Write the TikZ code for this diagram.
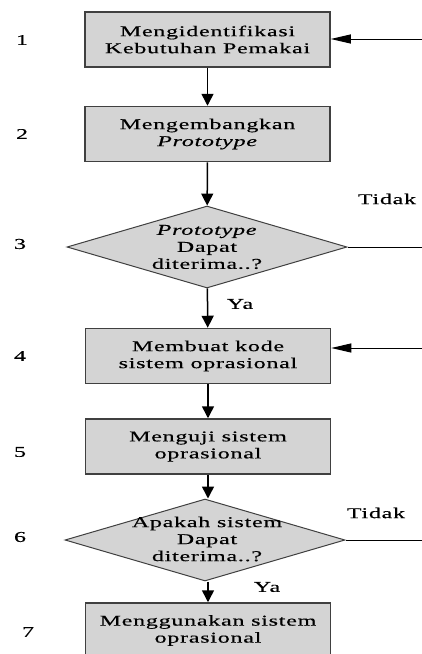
\documentclass[tikz,border=0pt]{standalone}
\usepackage{fontspec}
\setmainfont[FakeStretch=1.6,LetterSpace=5,FakeBold=0.4]{Liberation Serif}
\usetikzlibrary{shapes.geometric,arrows.meta}
\begin{document}
\begin{tikzpicture}[x=1pt,y=-1pt,
  font=\fontsize{15}{17}\selectfont,
  box/.style={draw=black!75,line width=1.5pt,fill=black!17,minimum width=245pt,minimum height=55pt,inner sep=0pt,align=center},
  dia/.style={draw=black!75,line width=1pt,fill=black!17,diamond,minimum width=280pt,minimum height=82pt,inner sep=0pt},
  txt/.style={align=center,inner sep=0pt},
  num/.style={inner sep=0pt},
  flow/.style={line width=1.5pt,-{Triangle[length=12pt,width=12pt]}},
  back/.style={line width=1pt,-{Triangle[length=20pt,width=9pt]}},
  plain/.style={line width=1pt}]
\useasboundingbox (0,0) rectangle (422,654);
\clip (0,0) rectangle (422,654);
\node[box] (b1) at (207.5,39.5) {Mengidentifikasi\\Kebutuhan Pemakai};
\node[box] (b2) at (207.5,134) {Mengembangkan\\\textit{Prototype}};
\node[dia] (d3) at (207,247) {};
\node[txt] (t3) at (207,247) {\textit{Prototype}\\Dapat\\diterima..?};
\node[box] (b4) at (208,356) {Membuat kode\\sistem oprasional};
\node[box] (b5) at (208,446.5) {Menguji sistem\\oprasional};
\node[dia] (d6) at (205,540) {};
\node[txt] (t6) at (207,539) {Apakah sistem\\Dapat\\diterima..?};
\node[box] (b7) at (208,630.5) {Menggunakan sistem\\oprasional};
\node[num] (n1) at (22,40) {1};
\node[num] (n2) at (22,134) {2};
\node[num] (n3) at (20,244) {3};
\node[num] (n4) at (20,356) {4};
\node[num] (n5) at (20,452) {5};
\node[num] (n6) at (20,537) {6};
\node[num] (n7) at (28,632) {7};
\node[txt] (td1) at (387,199) {Tidak};
\node[txt] (td2) at (376,513) {Tidak};
\node[txt] (ya1) at (240,304) {Ya};
\node[txt] (ya2) at (267,587) {Ya};
\coordinate (r1) at (422,39);
\coordinate (r3) at (422,247);
\coordinate (r4) at (422,348);
\coordinate (r6) at (422,540);
\draw[flow] (b1) -- (b2);
\draw[flow] (b2) -- (d3);
\draw[flow] (d3) -- (b4);
\draw[flow] (b4) -- (b5);
\draw[flow] (b5) -- (d6.north -| b5.south);
\draw[flow] (d6.south -| b5.south) -- (b7);
\draw[back] (r1) -- (b1.east |- r1);
\draw[back] (r4) -- (b4.east |- r4);
\draw[plain] (d3.east) -- (r3);
\draw[plain] (d6.east) -- (r6);
\end{tikzpicture}
\end{document}
